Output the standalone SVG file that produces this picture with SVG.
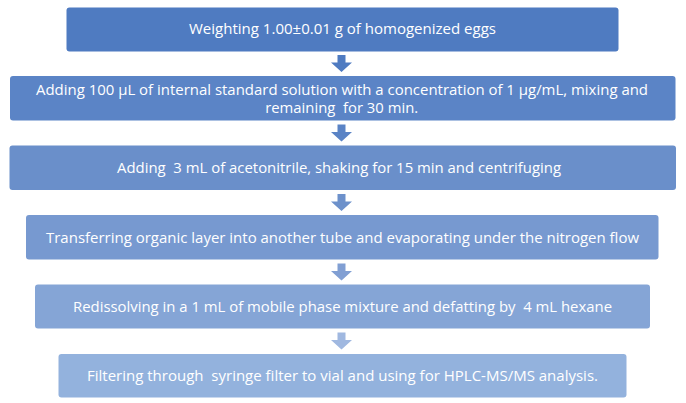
<svg xmlns="http://www.w3.org/2000/svg" width="686" height="403" viewBox="0 0 686 403" xml:space="preserve">
<style>
text{font-family:"Open Sans","Noto Sans","Liberation Sans",sans-serif;font-size:15px;fill:#ffffff;text-anchor:middle;white-space:pre}
</style>
<defs>
<path id="arr" d="M-4,0 H4 V7.5 H10.5 L0,17 L-10.5,7.5 H-4 Z"/>
</defs>
<rect width="686" height="403" fill="#ffffff"/>
<g id="connectors">
<use href="#arr" x="341.5" y="55" fill="#4f7bc1"/>
<use href="#arr" x="341.5" y="124.5" fill="#5a83c5"/>
<use href="#arr" x="341.5" y="194" fill="#6d91cb"/>
<use href="#arr" x="341.5" y="263.5" fill="#819fd3"/>
<use href="#arr" x="341.5" y="332.5" fill="#a0b8e0"/>
</g>
<g id="n1">
<rect x="66.5" y="7.5" width="552" height="44" rx="3" fill="#4f7bc1"/>
<text x="342.5" y="34" textLength="307" lengthAdjust="spacingAndGlyphs">Weighting 1.00±0.01 g of homogenized eggs</text>
</g>
<g id="n2">
<rect x="10" y="76" width="665.5" height="44.5" rx="3" fill="#5b84c6"/>
<text x="342" y="94.5" textLength="612" lengthAdjust="spacingAndGlyphs">Adding 100 µL of internal standard solution with a concentration of 1 µg/mL, mixing and</text>
<text x="341.7" y="113" textLength="153" lengthAdjust="spacingAndGlyphs">remaining  for 30 min.</text>
</g>
<g id="n3">
<rect x="9.5" y="145.5" width="666.5" height="44.5" rx="3" fill="#6a8fca"/>
<text x="339" y="173" textLength="444" lengthAdjust="spacingAndGlyphs">Adding  3 mL of acetonitrile, shaking for 15 min and centrifuging</text>
</g>
<g id="n4">
<rect x="26" y="215" width="632.5" height="44.5" rx="3" fill="#7799d0"/>
<text x="342.5" y="242.5" textLength="593" lengthAdjust="spacingAndGlyphs">Transferring organic layer into another tube and evaporating under the nitrogen flow</text>
</g>
<g id="n5">
<rect x="35" y="284.5" width="615" height="44" rx="3" fill="#85a5d6"/>
<text x="342.5" y="311.5" textLength="539" lengthAdjust="spacingAndGlyphs">Redissolving in a 1 mL of mobile phase mixture and defatting by  4 mL hexane</text>
</g>
<g id="n6">
<rect x="58.5" y="354" width="568" height="43.5" rx="3" fill="#93b2dd"/>
<text x="342.5" y="381" textLength="511" lengthAdjust="spacingAndGlyphs">Filtering through  syringe filter to vial and using for HPLC-MS/MS analysis.</text>
</g>
</svg>
